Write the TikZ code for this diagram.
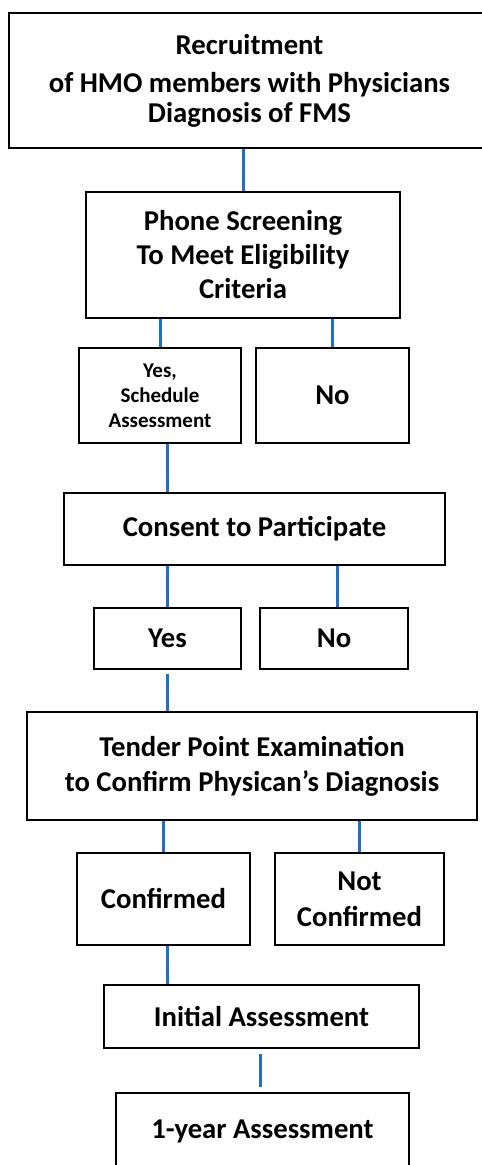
\documentclass[tikz,border=0pt]{standalone}
\usepackage{fontspec}
\setmainfont{Carlito}
\definecolor{linkblue}{RGB}{31,111,196}

\begin{document}
\begin{tikzpicture}[x=1pt, y=-1pt,
		box/.style={draw, line width=2.8pt, inner sep=0pt, align=center,
			font=\bfseries\fontsize{28.7}{32}\selectfont},
		smallbox/.style={box, font=\bfseries\fontsize{21}{25}\selectfont},
		link/.style={draw=linkblue, line width=3pt}]
		\useasboundingbox (0, 0) rectangle (482, 1165);
		\clip (0, 0) rectangle (482, 1165);

		% 招募与电话筛选
		\node[box, minimum width=481pt, minimum height=135pt] (recruit) at (249.5, 80.5)
			{Recruitment\\[6pt]of HMO members with Physicians\\[-2pt]Diagnosis of FMS};
		\node[box, minimum width=314pt, minimum height=126pt,
			font=\bfseries\fontsize{28.7}{34}\selectfont] (phone) at (243, 255)
			{Phone Screening\\To Meet Eligibility\\Criteria};
		\node[smallbox, minimum width=162pt, minimum height=95pt] (yesone) at (160, 395.5)
			{Yes,\\Schedule\\Assessment};
		\node[box, minimum width=153pt, minimum height=95pt] (noone) at (332.5, 395.5)
			{\raisebox{-5pt}{No}};

		% 同意参与
		\node[box, minimum width=381pt, minimum height=72pt] (consent) at (254.5, 529)
			{\raisebox{-3pt}{Consent to Participate}};
		\node[box, minimum width=147pt, minimum height=61pt] (yestwo) at (167.5, 638.5) {Yes};
		\node[box, minimum width=148pt, minimum height=61pt] (notwo) at (334, 638.5) {No};

		% 压痛点检查
		\node[box, minimum width=450pt, minimum height=108pt,
			font=\bfseries\fontsize{28.7}{35}\selectfont] (tender) at (252, 766)
			{Tender Point Examination\\to Confirm Physican’s Diagnosis};
		\node[box, minimum width=173pt, minimum height=92pt] (confirmed) at (163.5, 899) {Confirmed};
		\node[box, minimum width=169pt, minimum height=92pt,
			font=\bfseries\fontsize{28.7}{36}\selectfont] (notconf) at (359.5, 899)
			{Not\\Confirmed};

		% 评估
		\node[box, minimum width=315pt, minimum height=63pt] (initial) at (261.5, 1016.5)
			{Initial Assessment};
		\node[box, minimum width=293pt, minimum height=77pt] (year) at (262.5, 1131.5)
			{\raisebox{4pt}{1-year Assessment}};

		% 连线
		\draw[link] (recruit.south -| phone.north) -- (phone.north);
		\draw[link] (phone.south -| yesone.north) -- (yesone.north);
		\draw[link] (phone.south -| noone.north) -- (noone.north);
		\draw[link] (yesone.south -| yestwo.north) -- (consent.north -| yestwo.north);
		\draw[link] (consent.south -| yestwo.north) -- (yestwo.north);
		\draw[link] ([xshift=3pt]consent.south -| notwo.north) -- ([xshift=3pt]notwo.north);
		\draw[link, shorten <=4pt] (yestwo.south) -- (tender.north -| yestwo.south);
		\draw[link] (tender.south -| confirmed.north) -- (confirmed.north);
		\draw[link] (tender.south -| notconf.north) -- (notconf.north);
		\draw[link] ([xshift=3.5pt]confirmed.south) -- ([xshift=3.5pt]confirmed.south |- initial.north);
		\draw[link, shorten <=5pt, shorten >=5pt] ([xshift=-1.5pt]initial.south) -- ([xshift=-1.5pt]initial.south |- year.north);
	\end{tikzpicture}
\end{document}
